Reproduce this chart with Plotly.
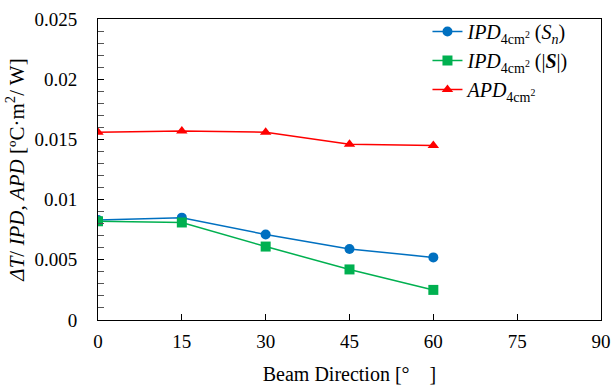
import plotly.graph_objects as go

angles = [0, 15, 30, 45, 60]
ipd_sn = [0.0083, 0.0085, 0.0071, 0.0059, 0.0052]
ipd_s = [0.0082, 0.0081, 0.0061, 0.0042, 0.0025]
apd = [0.0156, 0.0157, 0.0156, 0.0146, 0.0145]

names = [
    "<i>IPD</i><sub>4cm<sup>2</sup></sub> (<i>S<sub>n</sub></i>)",
    "<i>IPD</i><sub>4cm<sup>2</sup></sub> (|<b><i>S</i></b>|)",
    "<i>APD</i><sub>4cm<sup>2</sup></sub>",
]
colors = ["#0070C0", "#00B050", "#FF0000"]
symbols = ["circle", "square", "triangle-up"]

FONT = "Liberation Serif"
fig = go.Figure()
for vals, name, c, s in zip([ipd_sn, ipd_s, apd], names, colors, symbols):
    fig.add_trace(go.Scatter(
        x=angles, y=vals, name=name, mode="lines+markers",
        line=dict(color=c, width=1.5),
        marker=dict(symbol=s, size=10, color=c),
    ))

fig.update_layout(
    template="none",
    width=613, height=386,
    margin=dict(l=98, r=12, t=19, b=66),
    paper_bgcolor="white", plot_bgcolor="white",
    font=dict(family=FONT, size=19, color="black"),
    showlegend=True,
    legend=dict(
        x=0.655, y=1.023, xanchor="left", yanchor="top",
        borderwidth=0,
        font=dict(family=FONT, size=20, color="black"),
        bgcolor="rgba(0,0,0,0)", itemwidth=30,
    ),
    xaxis=dict(
        range=[0, 90], tickvals=[0, 15, 30, 45, 60, 75, 90],
        showgrid=False, zeroline=False,
        showline=True, linecolor="black", linewidth=1, mirror=True,
        ticks="inside", ticklen=6, tickcolor="black",
        ticklabelstandoff=4,
        title=dict(text="Beam Direction [°\u3000]", font=dict(family=FONT, size=20, color="black"), standoff=16),
        tickfont=dict(family=FONT, size=19, color="black"),
    ),
    yaxis=dict(
        range=[0, 0.025], tickvals=[0, 0.005, 0.01, 0.015, 0.02, 0.025],
        ticktext=["0", "0.005", "0.01", "0.015", "0.02", "0.025"],
        showgrid=False, zeroline=False,
        showline=True, linecolor="black", linewidth=1, mirror=True,
        ticks="inside", ticklen=6, tickcolor="black",
        ticklabelstandoff=16,
        minor=dict(dtick=0.001, ticks="inside", ticklen=6, tickcolor="#555", showgrid=False),
        title=dict(text="<i>ΔT</i>/ <i>IPD</i>, <i>APD</i> [ºC·m<sup>2</sup>/ W]", font=dict(family=FONT, size=21, color="black"), standoff=4),
        tickfont=dict(family=FONT, size=19, color="black"),
    ),
)

fig.write_html("out.html")
